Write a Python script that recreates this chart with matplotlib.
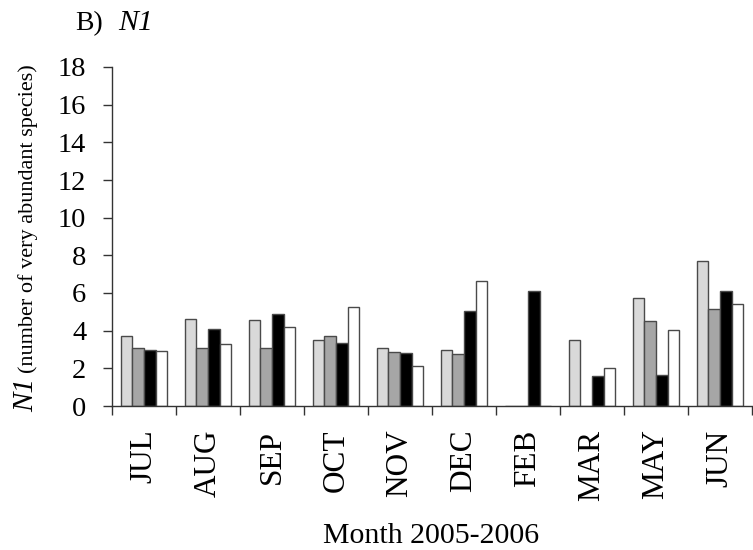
import matplotlib
matplotlib.use("Agg")
import matplotlib.pyplot as plt
import numpy as np

months = ["JUL", "AUG", "SEP", "OCT", "NOV", "DEC", "FEB", "MAR", "MAY", "JUN"]
series1 = [3.70, 4.62, 4.59, 3.53, 3.10, 3.00, 0.0, 3.51, 5.71, 7.70]
series2 = [3.07, 3.10, 3.08, 3.74, 2.87, 2.78, 0.0, 0.0, 4.52, 5.17]
series3 = [3.00, 4.09, 4.91, 3.35, 2.82, 5.03, 6.11, 1.60, 1.63, 6.11]
series4 = [2.94, 3.31, 4.18, 5.26, 2.11, 6.62, 0.0, 2.04, 4.04, 5.42]
yticks = [0, 2, 4, 6, 8, 10, 12, 14, 16, 18]

plt.rcParams['font.family'] = ['Liberation Serif', 'DejaVu Serif']

W, H = 753, 550
fig = plt.figure(figsize=(W / 100, H / 100), dpi=100)
ax = fig.add_axes([112 / W, 1 - 406 / H, (752 - 112) / W, (406 - 67) / H])

x = np.arange(len(months)) + 0.5
bw = 0.18
colors = ["#d9d9d9", "#a6a6a6", "#000000", "#ffffff"]
edge = "#4a4a4a"
for k, (vals, c) in enumerate(zip([series1, series2, series3, series4], colors)):
    ax.bar(x + (k - 1.5) * bw, vals, width=bw, color=c, edgecolor=edge, linewidth=1.0, zorder=2)

ax.set_xlim(0, len(months))
ax.set_ylim(0, 18)
ax.set_yticks(yticks)
ax.set_yticklabels([str(v) for v in yticks], fontsize=20.5)
ax.set_xticks(np.arange(len(months) + 1))
ax.set_xticklabels([])
ax.set_xticks(x, minor=True)
ax.set_xticklabels(months, minor=True, rotation=90, fontsize=22.5, va='top')
ax.tick_params(axis='x', which='major', direction='out', length=6.5, width=1, color='#333333')
ax.tick_params(axis='x', which='minor', length=0, pad=17)
ax.tick_params(axis='y', direction='out', length=6.5, width=1, color='#333333', pad=12)

for s in ['top', 'right']:
    ax.spines[s].set_visible(False)
for s in ['left', 'bottom']:
    ax.spines[s].set_color('#333333')
    ax.spines[s].set_linewidth(1.0)

fig.text(431 / W, 1 - 543 / H, "Month 2005-2006", ha='center', va='baseline', fontsize=21.5)

# title: "B)" upright + "N1" italic
tb = fig.text(75 / W, 1 - 30 / H, "B)", ha='left', va='baseline', fontsize=20)
fig.canvas.draw()
bbt = tb.get_window_extent()
fig.text((bbt.x1 + 15) / W, 1 - 30 / H, "N1", ha='left', va='baseline', fontsize=21.5, style='italic')

# y label: large italic N1 + smaller parenthetical
t1 = fig.text(26 / W, 1 - 412 / H, "N1", rotation=90, ha='center', va='bottom',
              fontsize=21, style='italic')
fig.canvas.draw()
bb = t1.get_window_extent()
fig.text(28 / W, (bb.y1 + 5) / H, "(number of very abundant species)", rotation=90,
         ha='center', va='bottom', fontsize=16)

fig.savefig("out.png", dpi=100)
